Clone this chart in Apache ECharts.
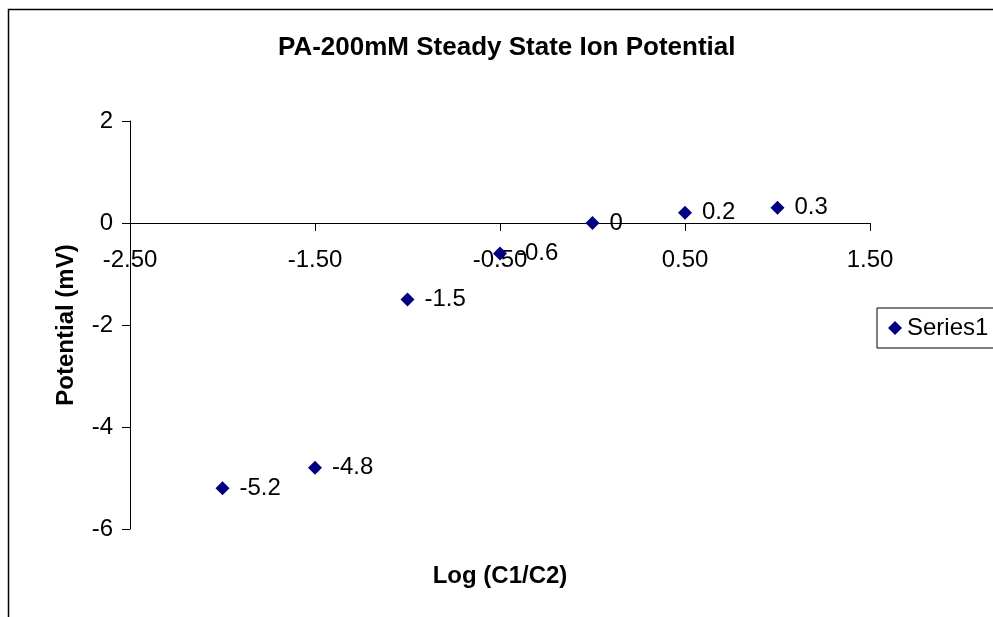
<!DOCTYPE html>
<html>
<head>
<meta charset="utf-8">
<script src="https://cdn.jsdelivr.net/npm/echarts@6/dist/echarts.min.js"></script>
<style>
  html, body { margin: 0; padding: 0; background: #fff; }
  #chart { width: 993px; height: 617px; }
</style>
</head>
<body>
<div id="chart"></div>
<script>
// 数据
var logRatio = [-2.0, -1.5, -1.0, -0.5, 0.0, 0.5, 1.0];
var potential = [-5.2, -4.8, -1.5, -0.6, 0, 0.2, 0.3];
var seriesName = 'Series1';

var points = logRatio.map(function (x, i) { return [x, potential[i]]; });
var font = 'Liberation Sans, Arial, sans-serif';

var myChart = echarts.init(document.getElementById('chart'));
var option = {
  animation: false,
  backgroundColor: '#fff',
  textStyle: { fontFamily: font },
  title: {
    text: 'PA-200mM Steady State Ion Potential',
    left: 273,
    top: 30,
    textStyle: { fontSize: 26, fontWeight: 'bold', color: '#000', fontFamily: font }
  },
  grid: { left: 130, right: 123, top: 121, bottom: 88, outerBoundsMode: 'none', containLabel: false },
  legend: {
    left: 877,
    top: 308,
    orient: 'vertical',
    data: [seriesName],
    icon: 'diamond',
    itemWidth: 14,
    itemHeight: 14,
    itemGap: 5,
    padding: [8, 20, 8, 11],
    borderColor: '#000',
    borderWidth: 1,
    textStyle: { fontSize: 24, color: '#000', fontFamily: font }
  },
  xAxis: {
    type: 'value',
    min: -2.5,
    max: 1.5,
    interval: 1,
    // 横轴画在 y=0 处（网格高 408px，0 位于顶部向下 1/4）
    offset: -306,
    name: 'Log (C1/C2)',
    nameLocation: 'middle',
    nameGap: 341,
    nameTextStyle: { fontSize: 24, fontWeight: 'bold', color: '#000', fontFamily: font },
    axisLine: { onZero: false, lineStyle: { color: '#000', width: 1 } },
    axisTick: { show: true, length: 8, lineStyle: { color: '#000' } },
    axisLabel: {
      fontSize: 24, color: '#000', margin: 25, fontFamily: font,
      formatter: function (v) { return v.toFixed(2); }
    },
    splitLine: { show: false }
  },
  yAxis: {
    type: 'value',
    min: -6,
    max: 2,
    interval: 2,
    name: 'Potential (mV)',
    nameLocation: 'middle',
    nameGap: 52,
    nameTextStyle: { fontSize: 24, fontWeight: 'bold', color: '#000', fontFamily: font },
    axisLine: { show: true, onZero: false, lineStyle: { color: '#000', width: 1 } },
    axisTick: { show: true, length: 8, lineStyle: { color: '#000' } },
    axisLabel: { fontSize: 24, color: '#000', margin: 17, fontFamily: font },
    splitLine: { show: false }
  },
  series: [
    {
      name: seriesName,
      type: 'scatter',
      symbol: 'diamond',
      symbolSize: 14,
      itemStyle: { color: '#000080', opacity: 1 },
      label: {
        show: true,
        position: 'right',
        distance: 10,
        fontSize: 24,
        color: '#000',
        fontFamily: font,
        formatter: function (p) { return String(p.value[1]); }
      },
      data: points
    }
  ],
  graphic: [
    {
      type: 'rect',
      shape: { x: 8.5, y: 9.5, width: 1200, height: 800 },
      style: { fill: 'none', stroke: '#000', lineWidth: 1.5 },
      silent: true
    }
  ]
};
myChart.setOption(option);
</script>
</body>
</html>
